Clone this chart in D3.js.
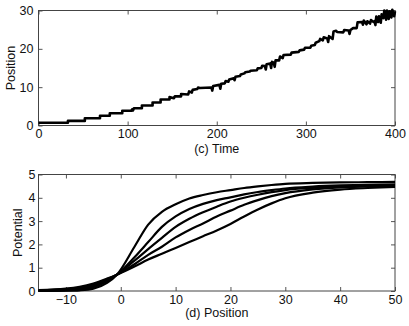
<!DOCTYPE html>
<html>
<head>
<meta charset="utf-8">
<script src="https://cdn.jsdelivr.net/npm/d3@7"></script>
<style>
body{margin:0;background:#fff;}
text{font-family:"Liberation Sans",Arial,Helvetica,sans-serif;}
</style>
</head>
<body>
<div id="chart"></div>
<script>
// panel (c): position over time, [time, position]
var walk=[[0,0.7],[33,0.7],[33,1.2],[52,1.2],[52,1.9],[69,1.9],[69,2.55],[80,2.55],[80,3.2],[94,3.2],
[94,3.85],[104,3.85],[105,4.2],[106,3.9],[107,4.5],[116,4.5],[116,5.2],[128,5.2],[128,6.0],[137,6.0],
[137,6.8],[147,6.8],[147,7.4],[152,7.1],[153,7.6],[160,7.6],[160,8.2],[168,8.1],[169,8.9],[172,8.6],
[173,9.3],[178,9.5],[179,9.9],[181,9.8],[194,9.9],[195,9.1],[196,10.3],[203,10.6],[204,9.6],[205,10.9],
[209,11.0],[210,11.6],[213,11.4],[214,12.0],[219,12.3],[220,11.8],[221,12.7],[226,12.9],[227,13.3],[231,13.6],
[232,13.9],[237,14.1],[238,14.3],[245,14.4],[246,14.9],[250,15.0],[251,15.6],[254,15.5],[255,14.6],[256,16.0],
[260,16.2],[261,15.0],[262,16.6],[264,16.4],[265,15.3],[266,17.0],[270,17.0],[271,18.0],[274,17.6],[275,18.4],
[283,18.5],[284,19.0],[292,19.2],[293,19.6],[298,19.8],[299,20.3],[305,20.3],[306,20.8],[310,21.0],[311,21.6],
[315,22.0],[316,22.6],[319,22.2],[320,23.0],[324,22.7],[325,21.8],[326,23.3],[330,22.6],[331,24.5],[334,24.7],
[335,24.4],[342,24.3],[343,24.9],[348,24.8],[349,23.9],[350,24.9],[353,25.4],[357,25.4],[358,26.9],[363,27.0],
[364,26.3],[365,27.4],[368,26.4],[369,27.2],[372,26.6],[373,27.5],[376,27.0],[377,27.2],[378,26.2],[379,28.4],
[381,27.0],[382,28.5],[384,26.8],[385,29.0],[387,28.0],[388,30.0],[390,27.6],[391,30.0],[393,27.8],[394,29.8],
[396,28.2],[397,30.2],[399,28.5],[400,29.8]];

// panel (d): potential curves sampled at these positions
var posX=[-15,-10,-7.5,-5,-2.5,-0.7,2.5,5,7.5,10,12.5,15,17.5,20,22.5,25,27.5,30,35,40,45,50];
var pot1=[0,0.01,0.03,0.1,0.35,0.7,1.9,2.85,3.4,3.72,3.97,4.12,4.24,4.33,4.42,4.49,4.55,4.6,4.64,4.66,4.67,4.68];
var pot2=[0.01,0.03,0.07,0.17,0.42,0.7,1.45,2.1,2.75,3.2,3.52,3.74,3.9,4.02,4.15,4.25,4.33,4.4,4.48,4.53,4.56,4.58];
var pot3=[0.02,0.05,0.1,0.22,0.47,0.7,1.3,1.8,2.28,2.75,3.1,3.38,3.62,3.84,4.0,4.13,4.24,4.33,4.43,4.49,4.52,4.54];
var pot4=[0.03,0.08,0.14,0.27,0.5,0.7,1.15,1.55,1.9,2.3,2.62,2.9,3.2,3.45,3.7,3.9,4.07,4.2,4.36,4.45,4.49,4.52];
var pot5=[0.04,0.1,0.18,0.32,0.53,0.7,1.05,1.35,1.6,1.85,2.1,2.35,2.6,2.88,3.2,3.5,3.76,3.98,4.22,4.35,4.42,4.47];

var xTicksC=[0,100,200,300,400], yTicksC=[0,10,20,30];
var xTicksD=[-10,0,10,20,30,40,50], yTicksD=[0,1,2,3,4,5];

var W=409,H=326, left=38.5, right=395;
var fmt=d3.format("d");

var svg=d3.select("#chart").append("svg")
	.attr("width",W).attr("height",H);

function panel(top,bottom,xd,yd,xt,yt,xlab,ylab,ylabX,xlabDy,yPad){
	var x=d3.scaleLinear().domain(xd).range([left,right]);
	var y=d3.scaleLinear().domain(yd).range([bottom,top]);
	var g=svg.append("g");

	// tick marks pointing inward on all sides, labels only bottom/left
	var axes=[
		[d3.axisBottom(x).tickValues(xt).tickPadding(4),"translate(0,"+bottom+")",true],
		[d3.axisTop(x).tickValues(xt),"translate(0,"+top+")",false],
		[d3.axisLeft(y).tickValues(yt).tickPadding(yPad),"translate("+left+",0)",true],
		[d3.axisRight(y).tickValues(yt),"translate("+right+",0)",false]
	];
	axes.forEach(function(a){
		var ax=g.append("g").attr("transform",a[1]).call(a[0].tickSize(-4).tickFormat(fmt));
		ax.select(".domain").remove();
		ax.selectAll("line").attr("stroke","#555");
		if(!a[2]) ax.selectAll("text").remove();
		else ax.selectAll("text").attr("font-size","12.5px").attr("fill","#111");
	});

	g.append("rect").attr("x",left).attr("y",top)
		.attr("width",right-left).attr("height",bottom-top)
		.attr("fill","none").attr("stroke","#444").attr("stroke-width",1);

	g.append("text").attr("x",(left+right)/2).attr("y",bottom+xlabDy)
		.attr("text-anchor","middle").attr("font-size","12.5px").attr("fill","#111").text(xlab);
	g.append("text")
		.attr("transform","translate("+ylabX+","+((top+bottom)/2)+")rotate(-90)")
		.attr("text-anchor","middle").attr("font-size","12.5px").attr("fill","#111").text(ylab);
	return {x:x,y:y,g:g};
}

var c=panel(10.5,125.5,[0,400],[0,30],xTicksC,yTicksC,"(c) Time","Position",15,27,5);
c.g.append("path").datum(walk)
	.attr("fill","none").attr("stroke","#000").attr("stroke-width",2.6)
	.attr("stroke-linejoin","round")
	.attr("d",d3.line().x(function(d){return c.x(d[0]);}).y(function(d){return c.y(d[1]);}));

var d=panel(174.5,291,[-15,50],[0,5],xTicksD,yTicksD,"(d) Position","Potential",22,26,3);
var line=d3.line().curve(d3.curveMonotoneX)
	.x(function(v,i){return d.x(posX[i]);}).y(function(v){return d.y(v);});
[pot1,pot2,pot3,pot4,pot5].forEach(function(s){
	d.g.append("path").datum(s)
		.attr("fill","none").attr("stroke","#000").attr("stroke-width",2.2)
		.attr("d",line);
});
</script>
</body>
</html>
